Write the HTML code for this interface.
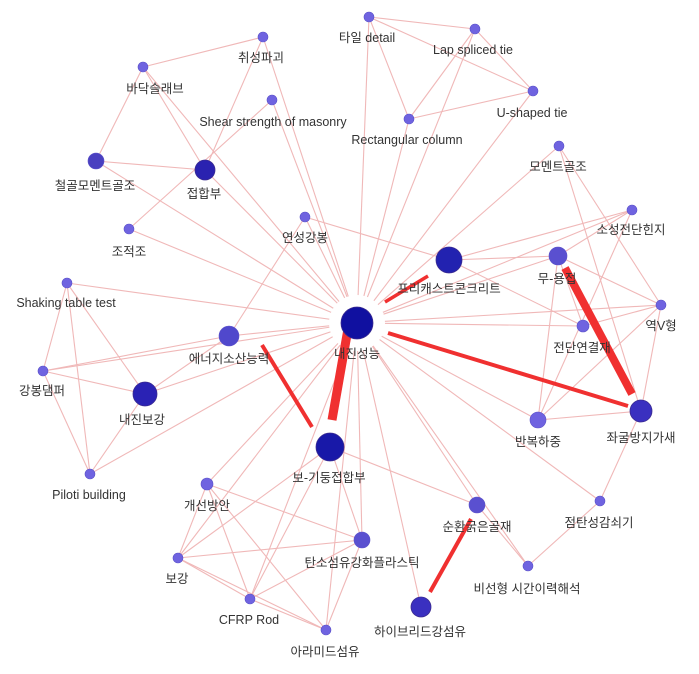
<!DOCTYPE html>
<html><head><meta charset="utf-8"><style>
html,body{margin:0;padding:0;background:#fff;width:699px;height:674px;overflow:hidden}
text{font-family:"Liberation Sans","Noto Sans CJK KR",sans-serif;font-size:12.5px;fill:#333;text-anchor:middle}
.e{stroke:#f0b8b8;stroke-width:1.1;fill:none}
.t{stroke:#f03030;fill:none}
.s{fill:#6f63e0;stroke:#5a50c8;stroke-width:0.6}
.b{fill:#1010a0;stroke:#3a2a90;stroke-width:0.8}
</style></head><body>
<svg width="699" height="674" xmlns="http://www.w3.org/2000/svg">
<g class="e">
<line x1="357" y1="323" x2="369" y2="17"/>
<line x1="357" y1="323" x2="475" y2="29"/>
<line x1="357" y1="323" x2="263" y2="37"/>
<line x1="357" y1="323" x2="143" y2="67"/>
<line x1="357" y1="323" x2="533" y2="91"/>
<line x1="357" y1="323" x2="409" y2="119"/>
<line x1="357" y1="323" x2="559" y2="146"/>
<line x1="357" y1="323" x2="632" y2="210"/>
<line x1="357" y1="323" x2="305" y2="217"/>
<line x1="357" y1="323" x2="558" y2="256"/>
<line x1="357" y1="323" x2="661" y2="305"/>
<line x1="357" y1="323" x2="583" y2="326"/>
<line x1="357" y1="323" x2="67" y2="283"/>
<line x1="357" y1="323" x2="229" y2="336"/>
<line x1="357" y1="323" x2="43" y2="371"/>
<line x1="357" y1="323" x2="145" y2="394"/>
<line x1="357" y1="323" x2="538" y2="420"/>
<line x1="357" y1="323" x2="90" y2="474"/>
<line x1="357" y1="323" x2="207" y2="484"/>
<line x1="357" y1="323" x2="477" y2="505"/>
<line x1="357" y1="323" x2="362" y2="540"/>
<line x1="357" y1="323" x2="178" y2="558"/>
<line x1="357" y1="323" x2="528" y2="566"/>
<line x1="357" y1="323" x2="250" y2="599"/>
<line x1="357" y1="323" x2="421" y2="607"/>
<line x1="357" y1="323" x2="326" y2="630"/>
<line x1="357" y1="323" x2="600" y2="501"/>
<line x1="357" y1="323" x2="272" y2="100"/>
<line x1="357" y1="323" x2="205" y2="170"/>
<line x1="357" y1="323" x2="96" y2="161"/>
<line x1="357" y1="323" x2="129" y2="229"/>
<line x1="369" y1="17" x2="475" y2="29"/>
<line x1="369" y1="17" x2="409" y2="119"/>
<line x1="369" y1="17" x2="533" y2="91"/>
<line x1="475" y1="29" x2="533" y2="91"/>
<line x1="475" y1="29" x2="409" y2="119"/>
<line x1="409" y1="119" x2="533" y2="91"/>
<line x1="263" y1="37" x2="143" y2="67"/>
<line x1="263" y1="37" x2="205" y2="170"/>
<line x1="143" y1="67" x2="96" y2="161"/>
<line x1="143" y1="67" x2="205" y2="170"/>
<line x1="96" y1="161" x2="205" y2="170"/>
<line x1="272" y1="100" x2="129" y2="229"/>
<line x1="559" y1="146" x2="661" y2="305"/>
<line x1="559" y1="146" x2="641" y2="411"/>
<line x1="632" y1="210" x2="558" y2="256"/>
<line x1="632" y1="210" x2="538" y2="420"/>
<line x1="632" y1="210" x2="449" y2="260"/>
<line x1="558" y1="256" x2="661" y2="305"/>
<line x1="558" y1="256" x2="583" y2="326"/>
<line x1="449" y1="260" x2="558" y2="256"/>
<line x1="449" y1="260" x2="583" y2="326"/>
<line x1="305" y1="217" x2="449" y2="260"/>
<line x1="305" y1="217" x2="229" y2="336"/>
<line x1="661" y1="305" x2="641" y2="411"/>
<line x1="661" y1="305" x2="583" y2="326"/>
<line x1="661" y1="305" x2="538" y2="420"/>
<line x1="641" y1="411" x2="538" y2="420"/>
<line x1="641" y1="411" x2="600" y2="501"/>
<line x1="600" y1="501" x2="528" y2="566"/>
<line x1="538" y1="420" x2="558" y2="256"/>
<line x1="67" y1="283" x2="43" y2="371"/>
<line x1="67" y1="283" x2="145" y2="394"/>
<line x1="67" y1="283" x2="90" y2="474"/>
<line x1="43" y1="371" x2="145" y2="394"/>
<line x1="43" y1="371" x2="90" y2="474"/>
<line x1="43" y1="371" x2="229" y2="336"/>
<line x1="145" y1="394" x2="90" y2="474"/>
<line x1="145" y1="394" x2="229" y2="336"/>
<line x1="330" y1="447" x2="477" y2="505"/>
<line x1="330" y1="447" x2="250" y2="599"/>
<line x1="330" y1="447" x2="178" y2="558"/>
<line x1="330" y1="447" x2="362" y2="540"/>
<line x1="207" y1="484" x2="178" y2="558"/>
<line x1="207" y1="484" x2="250" y2="599"/>
<line x1="207" y1="484" x2="326" y2="630"/>
<line x1="207" y1="484" x2="362" y2="540"/>
<line x1="178" y1="558" x2="250" y2="599"/>
<line x1="178" y1="558" x2="362" y2="540"/>
<line x1="250" y1="599" x2="326" y2="630"/>
<line x1="326" y1="630" x2="362" y2="540"/>
<line x1="250" y1="599" x2="362" y2="540"/>
<line x1="477" y1="505" x2="528" y2="566"/>
<line x1="178" y1="558" x2="326" y2="630"/>
</g>
<circle cx="357" cy="323" r="28" fill="#fff"/>
<g class="t" stroke-linecap="butt">
<line x1="348" y1="329" x2="332" y2="420" stroke-width="9"/>
<line x1="565" y1="268" x2="632" y2="394" stroke-width="8"/>
<line x1="388" y1="333" x2="628" y2="406" stroke-width="4"/>
<line x1="262" y1="345" x2="312" y2="427" stroke-width="4"/>
<line x1="385" y1="302" x2="428" y2="276" stroke-width="3.5"/>
<line x1="471" y1="519" x2="430" y2="592" stroke-width="4"/>
</g>
<g>
<circle class="s" cx="369" cy="17" r="5"/>
<circle class="s" cx="475" cy="29" r="5"/>
<circle class="s" cx="263" cy="37" r="5"/>
<circle class="s" cx="143" cy="67" r="5"/>
<circle class="s" cx="533" cy="91" r="5"/>
<circle class="s" cx="272" cy="100" r="5"/>
<circle class="s" cx="409" cy="119" r="5"/>
<circle class="s" cx="559" cy="146" r="5"/>
<circle class="s" cx="96" cy="161" r="8" style="fill:#4a40c0"/>
<circle class="b" cx="205" cy="170" r="10" style="fill:#2a22b0"/>
<circle class="s" cx="632" cy="210" r="5"/>
<circle class="s" cx="129" cy="229" r="5"/>
<circle class="s" cx="305" cy="217" r="5"/>
<circle class="b" cx="449" cy="260" r="13" style="fill:#2222b0"/>
<circle class="s" cx="558" cy="256" r="9" style="fill:#5a50d0"/>
<circle class="s" cx="661" cy="305" r="5"/>
<circle class="s" cx="583" cy="326" r="6"/>
<circle class="s" cx="67" cy="283" r="5"/>
<circle class="b" cx="357" cy="323" r="16"/>
<circle class="s" cx="229" cy="336" r="10" style="fill:#5048cc"/>
<circle class="s" cx="43" cy="371" r="5"/>
<circle class="b" cx="145" cy="394" r="12" style="fill:#2a22b4"/>
<circle class="b" cx="641" cy="411" r="11" style="fill:#3a30c0"/>
<circle class="s" cx="538" cy="420" r="8"/>
<circle class="b" cx="330" cy="447" r="14" style="fill:#1818a8"/>
<circle class="s" cx="90" cy="474" r="5"/>
<circle class="s" cx="207" cy="484" r="6"/>
<circle class="s" cx="477" cy="505" r="8" style="fill:#5a50d0"/>
<circle class="s" cx="600" cy="501" r="5"/>
<circle class="s" cx="362" cy="540" r="8" style="fill:#5a50d0"/>
<circle class="s" cx="178" cy="558" r="5"/>
<circle class="s" cx="528" cy="566" r="5"/>
<circle class="s" cx="250" cy="599" r="5"/>
<circle class="b" cx="421" cy="607" r="10" style="fill:#3a30c0"/>
<circle class="s" cx="326" cy="630" r="5"/>
</g>
<g>
<text x="367" y="42">타일 detail</text>
<text x="473" y="54">Lap spliced tie</text>
<text x="261" y="62">취성파괴</text>
<text x="155" y="93">바닥슬래브</text>
<text x="532" y="117">U-shaped tie</text>
<text x="273" y="126">Shear strength of masonry</text>
<text x="407" y="144">Rectangular column</text>
<text x="558" y="171">모멘트골조</text>
<text x="95" y="190">철골모멘트골조</text>
<text x="204" y="198">접합부</text>
<text x="631" y="234">소성전단힌지</text>
<text x="129" y="256">조적조</text>
<text x="305" y="242">연성강봉</text>
<text x="449" y="293">프리캐스트콘크리트</text>
<text x="557" y="283">무-용접</text>
<text x="661" y="330">역V형</text>
<text x="582" y="352">전단연결재</text>
<text x="66" y="307">Shaking table test</text>
<text x="357" y="358">내진성능</text>
<text x="229" y="363">에너지소산능력</text>
<text x="42" y="395">강봉댐퍼</text>
<text x="142" y="424">내진보강</text>
<text x="641" y="442">좌굴방지가새</text>
<text x="538" y="446">반복하중</text>
<text x="329" y="482">보-기둥접합부</text>
<text x="89" y="499">Piloti building</text>
<text x="207" y="510">개선방안</text>
<text x="477" y="531">순환굵은골재</text>
<text x="599" y="527">점탄성감쇠기</text>
<text x="362" y="567">탄소섬유강화플라스틱</text>
<text x="177" y="583">보강</text>
<text x="527" y="593">비선형 시간이력해석</text>
<text x="249" y="624">CFRP Rod</text>
<text x="420" y="636">하이브리드강섬유</text>
<text x="325" y="656">아라미드섬유</text>
</g>
</svg>
</body></html>
